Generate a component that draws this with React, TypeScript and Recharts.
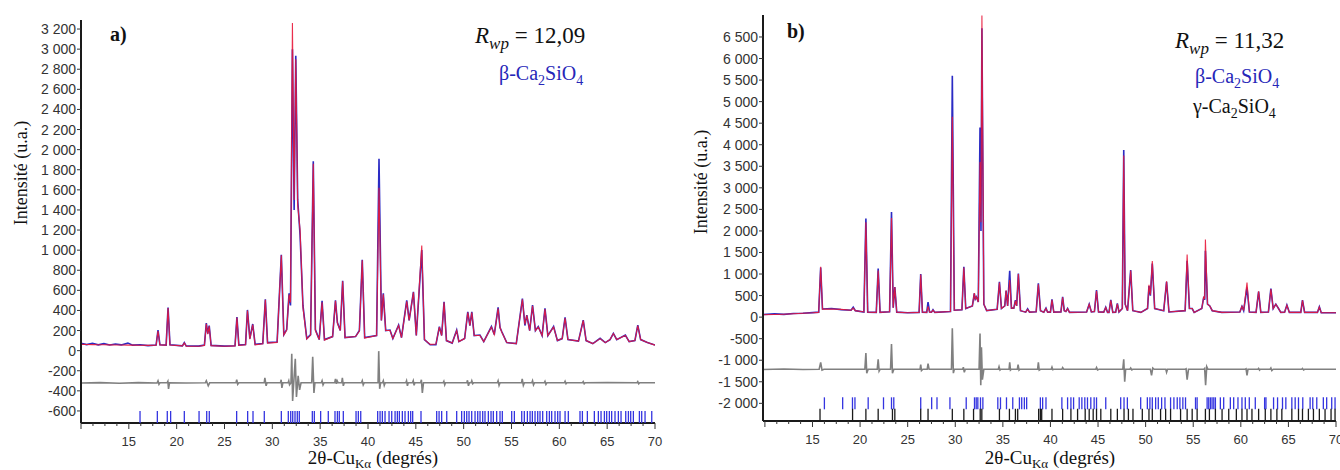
import { ComposedChart, Line, Scatter, XAxis, YAxis } from "recharts";

// ---- panel a) : beta-C2S only ----
// [2theta, observed, calculated]
const profileA: [number, number, number][] = [
  [10.0, 72, 62], [10.6, 60, 61], [11.2, 74, 60], [11.8, 58, 59], [12.4, 70, 58],
  [13.0, 56, 57], [13.6, 66, 56], [14.2, 57, 56], [14.9, 75, 55], [15.4, 55, 55],
  [16.2, 58, 54], [17.0, 50, 52], [17.85, 55, 53], [18.05, 205, 195], [18.25, 58, 56],
  [18.9, 55, 55], [19.1, 430, 425], [19.3, 58, 56], [20.6, 48, 47], [20.8, 80, 75],
  [21.0, 46, 45], [22.3, 45, 44], [22.9, 55, 52], [23.1, 275, 268], [23.25, 170, 165],
  [23.4, 250, 245], [23.6, 52, 50], [25.0, 45, 44], [26.1, 48, 47], [26.3, 335, 330],
  [26.5, 55, 52], [27.2, 60, 58], [27.4, 405, 398], [27.65, 120, 115], [27.95, 265, 260],
  [28.2, 62, 58], [29.0, 70, 68], [29.27, 512, 505], [29.5, 80, 75], [30.5, 85, 82],
  [30.94, 955, 950], [31.2, 160, 155], [31.5, 210, 205], [31.75, 570, 560], [31.9, 450, 480],
  [32.1, 3000, 3260], [32.28, 1400, 1500], [32.45, 2935, 2900], [32.65, 1500, 1450],
  [32.9, 1150, 1200], [33.2, 450, 430], [33.6, 120, 115], [34.0, 160, 155], [34.28, 1885, 1860],
  [34.5, 210, 200], [34.9, 110, 110], [35.2, 495, 480], [35.45, 110, 105], [36.3, 140, 140],
  [36.6, 500, 495], [36.8, 280, 275], [37.1, 200, 200], [37.35, 695, 690], [37.6, 130, 130],
  [38.7, 140, 140], [39.1, 200, 195], [39.4, 905, 900], [39.65, 130, 125], [40.9, 150, 150],
  [41.15, 1910, 1620], [41.4, 300, 300], [41.6, 570, 560], [41.85, 200, 200], [42.3, 205, 200],
  [42.6, 120, 120], [43.2, 255, 250], [43.5, 130, 130], [44.05, 500, 490], [44.3, 300, 300],
  [44.75, 585, 580], [45.05, 150, 150], [45.62, 1000, 1046], [45.9, 110, 110], [46.5, 58, 62],
  [47.1, 60, 66], [47.46, 238, 235], [47.7, 150, 150], [47.95, 485, 480], [48.2, 100, 100],
  [48.8, 75, 75], [49.27, 205, 200], [49.5, 90, 90], [50.1, 120, 120], [50.43, 386, 380],
  [50.65, 250, 250], [50.85, 386, 380], [51.1, 150, 150], [51.7, 155, 150], [52.1, 90, 90],
  [52.9, 240, 235], [53.2, 160, 160], [53.6, 430, 420], [53.8, 230, 230], [54.0, 185, 180],
  [54.5, 80, 80], [55.5, 70, 70], [56.14, 518, 510], [56.4, 250, 260], [56.6, 354, 350],
  [56.9, 200, 200], [57.2, 452, 445], [57.5, 200, 200], [57.8, 240, 235], [58.2, 150, 150],
  [58.5, 420, 415], [58.8, 150, 150], [59.4, 240, 235], [59.8, 100, 100], [60.3, 120, 120],
  [60.6, 330, 325], [60.9, 110, 110], [62.0, 95, 95], [62.5, 304, 300], [62.8, 100, 100],
  [63.5, 70, 70], [64.26, 123, 120], [64.8, 80, 80], [65.3, 110, 110], [65.65, 172, 170],
  [66.0, 110, 110], [66.9, 155, 150], [67.3, 90, 90], [67.9, 100, 100], [68.2, 254, 250],
  [68.5, 110, 110], [69.2, 80, 80], [70.0, 56, 55],
];

// [2theta, obs - calc (offset)]
const diffA: [number, number][] = [
  [10, -322], [12, -318], [14, -324], [16, -318], [17.95, -322], [18.05, -300], [18.15, -335],
  [18.25, -320], [19.0, -320], [19.08, -305], [19.15, -380], [19.25, -320], [21, -322],
  [23.0, -320], [23.1, -300], [23.3, -350], [23.45, -320],
  [26.2, -320], [26.28, -290], [26.38, -335], [26.5, -320],
  [29.15, -320], [29.22, -270], [29.35, -350], [29.45, -320],
  [30.85, -320], [30.92, -290], [31.0, -370], [31.1, -320],
  [31.65, -320], [31.72, -300], [31.8, -340], [31.95, -320],
  [32.03, -30], [32.12, -500], [32.25, -300], [32.4, -80], [32.52, -460], [32.7, -250],
  [32.85, -390], [33.0, -320],
  [34.12, -320], [34.22, -60], [34.35, -420], [34.45, -320],
  [35.12, -320], [35.2, -300], [35.3, -340], [35.4, -320],
  [36.52, -320], [36.6, -280], [36.7, -330], [36.78, -300], [36.88, -320],
  [37.25, -320], [37.32, -270], [37.42, -350], [37.52, -320],
  [39.32, -320], [39.4, -300], [39.5, -340], [39.6, -320],
  [41.05, -320], [41.12, -5], [41.22, -380], [41.32, -320],
  [41.52, -320], [41.6, -300], [41.7, -345], [41.8, -320],
  [43.95, -320], [44.03, -300], [44.12, -350], [44.2, -320],
  [44.65, -320], [44.73, -300], [44.82, -345], [44.9, -320],
  [45.5, -320], [45.58, -290], [45.68, -420], [45.8, -320],
  [47.85, -320], [47.93, -305], [48.02, -340], [48.1, -320],
  [50.33, -320], [50.4, -295], [50.5, -350], [50.6, -320],
  [50.78, -320], [50.85, -300], [50.95, -330], [51.05, -320],
  [53.52, -320], [53.6, -300], [53.7, -345], [53.8, -320],
  [56.05, -320], [56.12, -280], [56.24, -345], [56.35, -320],
  [57.12, -320], [57.2, -300], [57.3, -340], [57.4, -320],
  [58.42, -320], [58.5, -305], [58.6, -335], [58.7, -320],
  [60.52, -320], [60.6, -305], [60.7, -330], [60.8, -320],
  [62.42, -320], [62.5, -308], [62.6, -330], [62.7, -320], [65, -318],
  [68.12, -320], [68.2, -308], [68.3, -330], [68.4, -320], [70, -320],
];

const braggA = [
  16.17, 17.98, 19.02, 19.37, 20.8, 22.34, 23.14, 23.41, 26.27, 27.42, 27.98, 29.16, 30.94,
  31.67, 31.92, 32.13, 32.37, 32.61, 32.82, 34.18, 34.39, 35.05, 35.85, 36.55, 36.8, 37.0,
  37.42, 38.75, 38.99, 39.24, 41.01, 41.26, 41.5, 41.78, 42.2, 42.48, 42.83, 43.07, 43.28,
  43.59, 43.87, 44.22, 44.46, 44.67, 45.54, 47.18, 47.43, 47.7, 48.23, 49.27, 49.79, 50.07,
  50.32, 50.56, 50.84, 51.19, 51.47, 51.71, 51.99, 52.23, 52.58, 52.86, 53.1, 53.45, 53.8,
  54.04, 55.02, 55.3, 56.07, 56.34, 56.66, 56.94, 57.18, 57.46, 57.74, 57.98, 58.26, 58.68,
  58.96, 59.2, 59.55, 59.83, 60.07, 60.6, 60.94, 62.16, 62.41, 62.93, 63.66, 64.08, 64.36,
  64.71, 64.95, 65.23, 65.47, 65.82, 66.17, 66.45, 66.94, 67.22, 67.46, 67.74, 68.37, 68.61,
  68.96, 69.66,
];

const yTicksA = [-600, -400, -200, 0, 200, 400, 600, 800, 1000, 1200, 1400, 1600, 1800, 2000,
  2200, 2400, 2600, 2800, 3000, 3200];

// ---- panel b) : beta + gamma C2S ----
const profileB: [number, number, number][] = [
  [9.8, 60, 55], [11.0, 75, 62], [12.0, 65, 68], [13.0, 85, 78], [14.0, 90, 90],
  [15.0, 105, 100], [15.65, 115, 110], [15.86, 1150, 1167], [16.05, 190, 185], [17.0, 200, 190],
  [18.0, 175, 180], [19.05, 160, 160], [19.28, 230, 210], [19.5, 150, 150], [20.4, 120, 120],
  [20.61, 2290, 2200], [20.8, 115, 115], [21.7, 110, 110], [21.9, 1130, 1080], [22.1, 110, 110],
  [23.1, 125, 125], [23.3, 2440, 2300], [23.48, 220, 220], [23.65, 700, 700], [23.85, 115, 115],
  [25.0, 100, 100], [26.2, 110, 110], [26.37, 1000, 990], [26.55, 115, 115], [27.0, 110, 110],
  [27.14, 350, 250], [27.3, 120, 115], [27.5, 115, 115], [27.66, 170, 160], [27.85, 110, 110],
  [29.5, 130, 130], [29.69, 5600, 4650], [29.9, 160, 160], [30.7, 170, 170], [30.9, 1170, 1150],
  [31.1, 200, 200], [31.8, 260, 260], [32.0, 550, 560], [32.1, 420, 420], [32.22, 470, 470],
  [32.42, 350, 350], [32.6, 4400, 3600], [32.7, 2000, 2200], [32.8, 6700, 7000], [33.0, 300, 300],
  [33.3, 150, 150], [34.4, 180, 180], [34.64, 820, 800], [34.85, 200, 200], [35.2, 260, 260],
  [35.34, 610, 620], [35.5, 260, 260], [35.72, 1075, 860], [35.9, 210, 210], [36.15, 210, 210],
  [36.32, 394, 380], [36.45, 260, 260], [36.63, 1013, 1000], [36.85, 150, 150], [37.4, 115, 115],
  [37.6, 190, 180], [37.8, 115, 115], [38.5, 125, 125], [38.73, 782, 760], [38.95, 150, 150],
  [39.3, 115, 115], [39.53, 210, 200], [39.7, 115, 115], [40.0, 115, 115], [40.16, 410, 400],
  [40.35, 115, 115], [41.1, 120, 120], [41.28, 472, 460], [41.45, 150, 150], [41.62, 130, 130],
  [41.8, 200, 195], [42.0, 110, 110], [43.8, 120, 120], [44.07, 300, 295], [44.3, 120, 120],
  [44.62, 130, 130], [44.84, 626, 610], [45.05, 120, 120], [45.6, 115, 115], [45.81, 230, 225],
  [46.0, 110, 110], [46.15, 110, 110], [46.34, 400, 390], [46.55, 110, 110], [46.85, 115, 115],
  [47.03, 320, 310], [47.2, 120, 120], [47.55, 200, 200], [47.7, 3880, 3750], [47.85, 300, 300],
  [48.1, 150, 150], [48.43, 1090, 1080], [48.65, 150, 150], [49.5, 110, 110], [50.2, 200, 200],
  [50.35, 720, 750], [50.5, 500, 520], [50.7, 1245, 1300], [50.95, 200, 200], [51.9, 150, 150],
  [52.2, 820, 830], [52.45, 120, 120], [54.15, 150, 150], [54.36, 1307, 1450], [54.6, 200, 200],
  [54.89, 200, 200], [55.1, 110, 110], [55.9, 200, 200], [56.11, 470, 480], [56.2, 400, 420],
  [56.28, 1540, 1800], [56.5, 300, 300], [56.74, 260, 260], [57.0, 150, 150], [58.0, 110, 110],
  [59.9, 120, 120], [60.12, 250, 250], [60.3, 150, 150], [60.65, 688, 800], [60.9, 120, 120],
  [61.6, 110, 110], [61.87, 590, 600], [62.1, 110, 110], [62.9, 120, 120], [63.16, 665, 650],
  [63.4, 200, 200], [63.68, 300, 300], [63.96, 200, 200], [64.2, 110, 110], [64.6, 115, 115],
  [64.84, 280, 275], [65.1, 110, 110], [66.3, 110, 110], [66.48, 394, 390], [66.7, 110, 110],
  [68.05, 110, 110], [68.25, 240, 235], [68.45, 100, 100], [70.0, 100, 100],
];

const diffB: [number, number][] = [
  [9.8, -1215], [12, -1205], [14, -1215], [15.7, -1210], [15.86, -1050], [16.0, -1230],
  [16.2, -1210], [20.5, -1210], [20.61, -835], [20.7, -1300], [20.85, -1210], [21.8, -1210],
  [21.9, -980], [22.0, -1250], [22.1, -1210], [23.2, -1210], [23.3, -625], [23.4, -1300],
  [23.55, -1210], [26.3, -1210], [26.37, -1100], [26.45, -1240], [26.6, -1210], [27.05, -1210],
  [27.14, -1080], [27.25, -1210], [29.6, -1210], [29.69, -260], [29.8, -1300], [29.9, -1210],
  [30.78, -1210], [30.85, -1160], [30.95, -1280], [31.05, -1210], [32.5, -1210], [32.6, -380],
  [32.68, -1580], [32.75, -700], [32.85, -1450], [33.0, -1210], [34.52, -1210], [34.6, -1150],
  [34.7, -1230], [34.8, -1210], [35.65, -1210], [35.72, -1050], [35.8, -1230], [35.9, -1210],
  [36.52, -1210], [36.6, -1100], [36.7, -1230], [36.8, -1210], [38.65, -1210], [38.73, -1050],
  [38.82, -1230], [38.95, -1210], [40.08, -1210], [40.16, -1160], [40.25, -1220], [40.35, -1210],
  [41.2, -1210], [41.28, -1170], [41.4, -1210], [44.76, -1210], [44.84, -1170], [44.95, -1225],
  [45.1, -1210], [47.6, -1210], [47.7, -980], [47.8, -1500], [47.9, -1210], [48.35, -1210],
  [48.43, -1180], [48.55, -1225], [48.65, -1210], [50.5, -1210], [50.62, -1350], [50.75, -1180],
  [50.9, -1210], [52.12, -1210], [52.2, -1280], [52.3, -1210], [54.18, -1210], [54.25, -1200],
  [54.36, -1450], [54.5, -1210], [56.12, -1210], [56.2, -1190], [56.3, -1580], [56.42, -1150],
  [56.55, -1210], [60.48, -1210], [60.55, -1200], [60.65, -1350], [60.75, -1210], [61.8, -1210],
  [61.87, -1190], [61.97, -1230], [62.05, -1210], [63.08, -1210], [63.16, -1180], [63.26, -1240],
  [63.4, -1210], [66.4, -1210], [66.48, -1190], [66.6, -1225], [66.7, -1210], [70, -1210],
];

const braggBeta = [
  16.25, 18.17, 19.2, 19.46, 20.85, 22.46, 23.3, 23.54, 26.37, 27.52, 28.08, 29.44, 31.15,
  32.02, 32.2, 32.37, 32.65, 32.9, 34.47, 34.75, 35.38, 36.04, 36.74, 36.98, 37.26, 37.5,
  38.94, 39.18, 39.53, 41.2, 41.8, 42.15, 42.43, 43.02, 43.3, 43.61, 43.89, 44.24, 44.59,
  44.84, 45.81, 47.38, 47.73, 48.08, 49.48, 50.18, 50.45, 50.7, 51.05, 51.33, 51.68, 52.03,
  52.62, 52.97, 53.32, 53.6, 53.91, 54.19, 55.24, 55.41, 56.46, 56.63, 56.81, 56.98, 57.16,
  57.33, 57.85, 58.2, 58.9, 59.25, 59.7, 60.12, 60.47, 60.89, 61.52, 62.5, 62.64, 63.44,
  63.86, 64.38, 64.73, 65.36, 65.71, 66.06, 66.51, 67.28, 67.56, 67.98, 68.67, 69.02, 69.55,
  69.9,
];

const braggGamma = [
  15.79, 19.21, 20.61, 21.9, 23.4, 23.65, 26.37, 27.14, 29.69, 30.9, 31.92, 32.62, 32.79,
  34.64, 35.69, 36.32, 36.56, 38.76, 38.94, 39.08, 40.16, 41.28, 42.15, 42.85, 43.65, 44.07,
  44.49, 44.84, 45.29, 46.34, 47.03, 47.73, 48.19, 48.67, 49.65, 50.35, 50.7, 51.57, 52.1,
  52.62, 53.67, 54.36, 54.89, 55.41, 56.28, 56.7, 57.33, 58.03, 58.73, 59.53, 60.12, 60.65,
  61.17, 61.87, 62.57, 63.16, 63.79, 64.31, 65.36, 66.06, 66.48, 67.1, 67.63, 68.25, 68.85,
  69.48, 69.9,
];

const yTicksB = [-2000, -1500, -1000, -500, 0, 500, 1000, 1500, 2000, 2500, 3000, 3500, 4000,
  4500, 5000, 5500, 6000, 6500];

// minor every 1.25 deg, labels on multiples of 5
const xTicks = Array.from({ length: 49 }, (_, i) => 10 + i * 1.25);

const SANS = "Liberation Sans";
const SERIF = "Liberation Serif";
const OBS = "#2b2bc4";
const CALC = "#e8173a";
const DIFF = "#808080";

const fmt = (v: number) => String(v).replace(/\B(?=(\d{3})+(?!\d))/g, " ");

function XTick(props: any) {
  const { x, y, payload } = props;
  const v = payload.value as number;
  const major = Math.abs(v % 5) < 1e-6;
  return (
    <g>
      <line x1={x} x2={x} y1={y} y2={y + (major ? 6 : 3)} stroke="#333" strokeWidth={1} />
      {major && v >= 15 ? (
        <text x={x} y={y + 23} textAnchor="middle" fontSize={13} fill="#333"
          style={{ fontFamily: SANS }}>
          {v}
        </text>
      ) : null}
    </g>
  );
}

const tickMark = (color: string, half: number) => (p: any) => (
  <line x1={p.cx} x2={p.cx} y1={p.cy - half} y2={p.cy + half} stroke={color} strokeWidth={1.3} />
);

function Panel(props: {
  profile: [number, number, number][];
  diff: [number, number][];
  bragg: { pos: number[]; level: number; color: string }[];
  yDomain: [number, number];
  yTicks: number[];
  xDomain: [number, number];
  yWidth: number;
  top: number;
  right: number;
  xHeight: number;
}) {
  const prof = props.profile.map(([x, obs, calc]) => ({ x, obs, calc }));
  const diff = props.diff.map(([x, d]) => ({ x, d }));
  return (
    <ComposedChart
      width={670}
      height={470}
      margin={{ top: props.top, right: props.right, bottom: 0, left: 0 }}
    >
      <XAxis
        dataKey="x"
        type="number"
        domain={props.xDomain}
        allowDataOverflow
        ticks={xTicks.filter((t) => t >= props.xDomain[0] && t <= props.xDomain[1])}
        tick={<XTick />}
        tickLine={false}
        tickSize={0}
        tickMargin={0}
        height={props.xHeight}
        axisLine={{ stroke: "#1a1a1a", strokeWidth: 2 }}
        interval={0}
      />
      <YAxis
        type="number"
        domain={props.yDomain}
        allowDataOverflow
        ticks={props.yTicks}
        interval={0}
        width={props.yWidth}
        tickFormatter={fmt}
        tickSize={4}
        tickMargin={1}
        tick={{ fontSize: 14, fill: "#333", fontFamily: SANS }}
        tickLine={{ stroke: "#333" }}
        axisLine={{ stroke: "#1a1a1a", strokeWidth: 2 }}
      />
      <Line data={diff} dataKey="d" type="linear" stroke={DIFF} strokeWidth={1.6}
        dot={false} activeDot={false} isAnimationActive={false} />
      <Line data={prof} dataKey="obs" type="linear" stroke={OBS} strokeWidth={1.6}
        dot={false} activeDot={false} isAnimationActive={false} />
      <Line data={prof} dataKey="calc" type="linear" stroke={CALC} strokeWidth={1.1}
        strokeOpacity={0.9} dot={false} activeDot={false} isAnimationActive={false} />
      {props.bragg.map((b, i) => (
        <Scatter
          key={i}
          data={b.pos.map((x) => ({ x, y: b.level }))}
          dataKey="y"
          shape={tickMark(b.color, 6)}
          isAnimationActive={false}
        />
      ))}
    </ComposedChart>
  );
}

const serif = { fontFamily: SERIF };

function Formula(props: { x: number; y: number; prefix: string; color: string }) {
  return (
    <text x={props.x} y={props.y} fontSize={20} fill={props.color} style={serif}>
      {props.prefix}-Ca
      <tspan dy={5} fontSize={14}>2</tspan>
      <tspan dy={-5}>SiO</tspan>
      <tspan dy={5} fontSize={14}>4</tspan>
    </text>
  );
}

function Rwp(props: { x: number; y: number; value: string }) {
  return (
    <text x={props.x} y={props.y} fontSize={23} fill="#111" style={serif}>
      <tspan fontStyle="italic">R</tspan>
      <tspan dy={6} fontSize={17} fontStyle="italic">wp</tspan>
      <tspan dy={-6}>{" = " + props.value}</tspan>
    </text>
  );
}

function XTitle(props: { cx: number }) {
  return (
    <text x={props.cx} y={464} textAnchor="middle" fontSize={19} fill="#111" style={serif}>
      2θ-Cu
      <tspan dy={4} fontSize={13}>Kα</tspan>
      <tspan dy={-4}>{"  (degrés)"}</tspan>
    </text>
  );
}

export default function App() {
  return (
    <div style={{ position: "absolute", left: 0, top: 0, width: 1340, height: 470, background: "#fff" }}>
      <div style={{ position: "absolute", left: 0, top: 0 }}>
        <Panel
          profile={profileA}
          diff={diffA}
          bragg={[{ pos: braggA, level: -660, color: "#3434e0" }]}
          yDomain={[-720, 3290]}
          yTicks={yTicksA}
          xDomain={[10, 70]}
          yWidth={81}
          top={20}
          right={15}
          xHeight={47}
        />
      </div>
      <div style={{ position: "absolute", left: 670, top: 0 }}>
        <Panel
          profile={profileB}
          diff={diffB}
          bragg={[
            { pos: braggBeta, level: -2000, color: "#3434e0" },
            { pos: braggGamma, level: -2265, color: "#1a1a1a" },
          ]}
          yDomain={[-2410, 7010]}
          yTicks={yTicksB}
          xDomain={[9.8, 70]}
          yWidth={93}
          top={15}
          right={4}
          xHeight={49}
        />
      </div>
      <svg
        width={1340}
        height={470}
        style={{ position: "absolute", left: 0, top: 0, pointerEvents: "none" }}
      >
        <text transform="translate(27,173) rotate(-90)" textAnchor="middle" fontSize={18}
          fill="#111" style={serif}>Intensité (u.a.)</text>
        <text transform="translate(707,182) rotate(-90)" textAnchor="middle" fontSize={18}
          fill="#111" style={serif}>Intensité (u.a.)</text>
        <XTitle cx={373} />
        <XTitle cx={1050} />
        <text x={110} y={41} fontWeight="bold" fontSize={20} fill="#111" style={serif}>a)</text>
        <text x={787} y={38} fontWeight="bold" fontSize={20} fill="#111" style={serif}>b)</text>
        <Rwp x={475} y={43} value="12,09" />
        <Rwp x={1175} y={48} value="11,32" />
        <Formula x={499} y={80} prefix="β" color="#2626b8" />
        <Formula x={1195} y={83} prefix="β" color="#2626b8" />
        <Formula x={1193} y={113} prefix="γ" color="#111" />
      </svg>
    </div>
  );
}
